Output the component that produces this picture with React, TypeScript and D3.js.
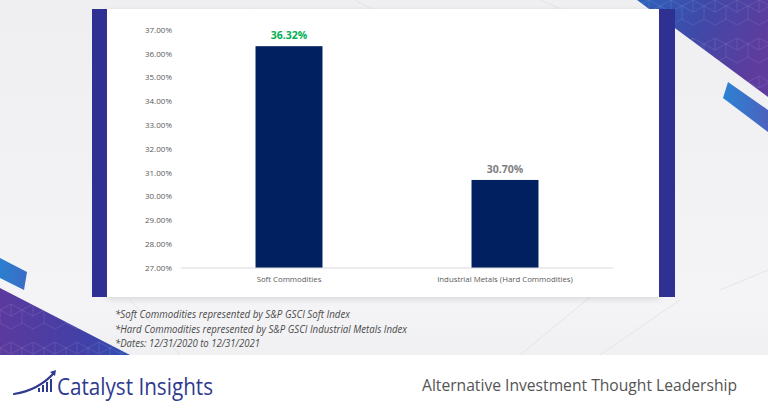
import React from "react";
import * as d3 from "d3";

const categories = ["Soft Commodities", "Industrial Metals (Hard Commodities)"];
const values = [36.32, 30.7];
const valueLabels = ["36.32%", "30.70%"];
const valueColors = ["#00b050", "#7f7f7f"];
const yTicks = [27, 28, 29, 30, 31, 32, 33, 34, 35, 36, 37];
const footnotes = [
  "*Soft Commodities represented by S&P GSCI Soft Index",
  "*Hard Commodities represented by S&P GSCI Industrial Metals Index",
  "*Dates: 12/31/2020 to 12/31/2021",
];
const footnoteWidths = [235, 292, 145];
const brand = "Catalyst Insights";
const tagline = "Alternative Investment Thought Leadership";

const W = 768;
const H = 410;

export default function App() {
  const y = d3.scaleLinear().domain([27, 37]).range([268, 30]);
  const x = d3.scaleBand<string>().domain(categories).range([181, 613]).paddingInner(0).paddingOuter(0);
  const barW = x.bandwidth() * 0.31;
  const fmt = d3.format(".2f");
  const font = "'Open Sans', 'Liberation Sans', sans-serif";

  return (
    <div style={{ position: "fixed", left: 0, top: 0, width: W, height: H }}>
      <svg width={W} height={H} viewBox={`0 0 ${W} ${H}`} style={{ display: "block" }}>
        <defs>
          <linearGradient id="bg" x1="0" y1="0" x2="0" y2="1">
            <stop offset="0" stopColor="#efeff2" />
            <stop offset="0.75" stopColor="#f4f4f6" />
            <stop offset="1" stopColor="#ececef" />
          </linearGradient>
          <linearGradient id="tr" x1="0" y1="0" x2="1" y2="0.3">
            <stop offset="0" stopColor="#2d62bc" />
            <stop offset="0.5" stopColor="#3f49a8" />
            <stop offset="1" stopColor="#5d3c9e" />
          </linearGradient>
          <linearGradient id="bl" x1="0" y1="0" x2="1" y2="0">
            <stop offset="0" stopColor="#5b3a9e" />
            <stop offset="0.6" stopColor="#443fa6" />
            <stop offset="1" stopColor="#2f4fb3" />
          </linearGradient>
          <linearGradient id="bar1" x1="0" y1="0" x2="1" y2="0">
            <stop offset="0" stopColor="#2b82d4" />
            <stop offset="1" stopColor="#4c62bd" />
          </linearGradient>
          <linearGradient id="bar2" x1="0" y1="0" x2="1" y2="0">
            <stop offset="0" stopColor="#2b7fd0" />
            <stop offset="1" stopColor="#3a6cc4" />
          </linearGradient>
          <pattern id="cubes" width="22" height="38" patternUnits="userSpaceOnUse">
            <path d="M11 0 L22 6 L22 19 L11 25 L0 19 L0 6 Z M11 0 L11 12 M0 6 L11 12 L22 6" fill="none" stroke="#ffffff" strokeOpacity="0.12" strokeWidth="0.8" />
          </pattern>
          <filter id="shadow" x="-5%" y="-5%" width="110%" height="115%">
            <feDropShadow dx="0" dy="2" stdDeviation="3" floodColor="#000" floodOpacity="0.12" />
          </filter>
        </defs>

        {/* background */}
        <rect x={0} y={0} width={W} height={H} fill="url(#bg)" />
        <g stroke="#dcdce2" strokeWidth={0.8} fill="none" opacity={0.8}>
          <path d="M355 0 L400 25" />
          <path d="M540 0 L610 30" />
          <path d="M590 297 L520 355" />
          <path d="M680 300 L600 355" />
          <path d="M130 300 L180 355" />
          <path d="M720 290 L768 270" />
        </g>

        {/* top-right purple */}
        <path d="M637 0 L768 0 L768 97 Z" fill="url(#tr)" />
        <path d="M637 0 L768 0 L768 97 Z" fill="url(#cubes)" />
        <path d="M728 82 L768 110 L768 132 L723 98 Z" fill="url(#bar1)" />

        {/* bottom-left purple */}
        <path d="M0 288 L130 355 L0 355 Z" fill="url(#bl)" />
        <path d="M0 288 L130 355 L0 355 Z" fill="url(#cubes)" />
        <path d="M0 258 L27 272 L24 290 L0 278 Z" fill="url(#bar2)" />

        {/* footer */}
        <rect x={0} y={355} width={W} height={H - 355} fill="#ffffff" />

        {/* panel */}
        <rect x={107} y={9} width={552} height={288} fill="#ffffff" filter="url(#shadow)" />
        <rect x={92} y={9} width={15} height={288} fill="#2e3192" />
        <rect x={659} y={9} width={16} height={288} fill="#2e3192" />

        {/* y tick labels */}
        <g fontFamily={font} fontSize={8} fill="#595959" textAnchor="end">
          {yTicks.map((t) => (
            <text key={t} x={172} y={y(t)} dy="0.35em">
              {fmt(t)}%
            </text>
          ))}
        </g>

        {/* bars */}
        {categories.map((c, i) => {
          const cx = (x(c) as number) + x.bandwidth() / 2;
          return (
            <g key={c}>
              <rect x={cx - barW / 2} y={y(values[i])} width={barW} height={y(27) - y(values[i])} fill="#002060" />
              <text x={cx} y={y(values[i]) - 7} textAnchor="middle" fontFamily={font} fontWeight={700} fontSize={10.5} fill={valueColors[i]}>
                {valueLabels[i]}
              </text>
              <text x={cx} y={282} textAnchor="middle" fontFamily={font} fontSize={7.8} fill="#595959">
                {c}
              </text>
            </g>
          );
        })}
        <line x1={181} x2={613} y1={y(27)} y2={y(27)} stroke="#d9d9d9" strokeWidth={1} />

        {/* footnotes */}
        <g fontFamily={font} fontStyle="italic" fontSize={11} fill="#4a4a4a">
          {footnotes.map((f, i) => (
            <text key={i} x={115} y={318 + i * 14.5} textLength={footnoteWidths[i]} lengthAdjust="spacingAndGlyphs">
              {f}
            </text>
          ))}
        </g>

        {/* logo */}
        <g>
          <path d="M14 394 C 28 392, 42 386, 54 373" fill="none" stroke="#2e3a8f" strokeWidth={2.2} strokeLinecap="round" />
          <path d="M56 370 L50 372 L55 376 Z" fill="#2e3a8f" />
          <rect x={38} y={388} width={2} height={4} fill="#2e3a8f" />
          <rect x={42} y={385} width={2} height={7} fill="#2e3a8f" />
          <rect x={46} y={382} width={2} height={10} fill="#2e3a8f" />
          <rect x={50} y={379} width={2} height={13} fill="#2e3a8f" />
          <text x={57} y={395} fontFamily="'Open Sans', 'Liberation Sans', sans-serif" fontSize={24} fill="#2e3a8f" textLength={156} lengthAdjust="spacingAndGlyphs">
            {brand}
          </text>
        </g>
        <text x={422} y={391} fontFamily="'Open Sans', sans-serif" fontSize={16.5} fill="#555555" textLength={315} lengthAdjust="spacingAndGlyphs">
          {tagline}
        </text>
      </svg>
    </div>
  );
}
